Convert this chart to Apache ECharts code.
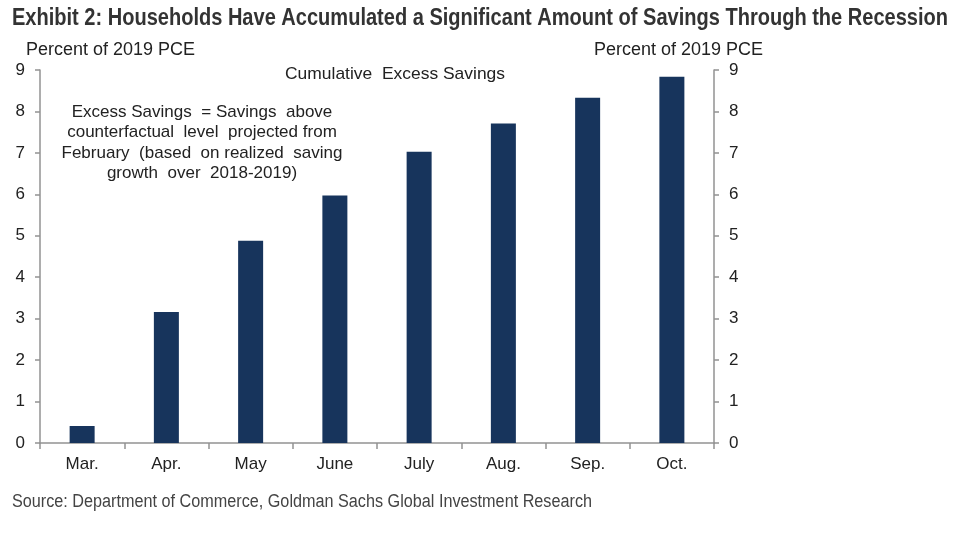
<!DOCTYPE html>
<html><head><meta charset="utf-8">
<script src="https://cdn.jsdelivr.net/npm/echarts@6/dist/echarts.min.js"></script>
<style>html,body{margin:0;padding:0;background:#fff}#c{width:960px;height:538px}</style>
</head><body><div id="c"></div>
<script>
const categories = ['Mar.', 'Apr.', 'May', 'June', 'July', 'Aug.', 'Sep.', 'Oct.'];
const excessSavings = [0.41, 3.16, 4.88, 5.97, 7.03, 7.71, 8.33, 8.84];
const yTicks = [0, 1, 2, 3, 4, 5, 6, 7, 8, 9];
const titleText = 'Exhibit 2: Households Have Accumulated a Significant Amount of Savings Through the Recession';
const unitText = 'Percent of 2019 PCE';
const seriesTitle = 'Cumulative  Excess Savings';
const noteLines = ['Excess Savings  = Savings  above', 'counterfactual  level  projected from', 'February  (based  on realized  saving', 'growth  over  2018-2019)'];
const sourceText = 'Source: Department of Commerce, Goldman Sachs Global Investment Research';

const FF = 'Liberation Sans, Arial, sans-serif';
const ctx = document.createElement('canvas').getContext('2d');
function measure(text, size, weight) {
  ctx.font = (weight || 'normal') + ' ' + size + 'px ' + FF;
  return ctx.measureText(text).width;
}
// text element horizontally squeezed so that it spans targetW
function fitText(text, x, y, size, targetW, opts) {
  opts = opts || {};
  const w = measure(text, size, opts.weight);
  const align = opts.align || 'left';
  return {
    type: 'group', x: x, y: y, scaleX: targetW / w,
    children: [{type: 'text', style: {text: text, x: 0, y: 0, align: align, verticalAlign: 'middle',
      fontFamily: FF, fontSize: size, fontWeight: opts.weight || 'normal', fill: opts.color || '#222'}}]
  };
}

const chart = echarts.init(document.getElementById('c'));
const axisCol = '#929292';
const labelFont = {color: '#222', fontSize: 17, fontFamily: FF};
const yAxisBase = {
  type: 'value', min: yTicks[0], max: yTicks[yTicks.length - 1], interval: 1,
  axisLine: {show: true, lineStyle: {color: axisCol, width: 1.5}},
  axisTick: {show: true, length: 5, lineStyle: {color: axisCol, width: 1.5}},
  splitLine: {show: false},
  axisLabel: Object.assign({margin: 15}, labelFont)
};
const noteW = Math.max.apply(null, noteLines.map(l => measure(l, 17)));
const noteScale = 281 / noteW;
const graphics = [
  fitText(titleText, 12, 18, 24, 936, {weight: 'bold', color: '#333'}),
  fitText(unitText, 26, 50, 18, 169),
  fitText(unitText, 594, 50, 18, 169),
  fitText(seriesTitle, 395, 74, 17, 220, {align: 'center'}),
  fitText(sourceText, 12, 502, 18, 580, {color: '#444'}),
  {type: 'group', x: 202, y: 112, scaleX: noteScale,
   children: noteLines.map((l, i) => ({type: 'text', style: {text: l, x: 0, y: i * 20.5, align: 'center', verticalAlign: 'middle',
     fontFamily: FF, fontSize: 17, fill: '#222'}}))}
];
chart.setOption({
  animation: false,
  graphic: graphics,
  grid: {left: 40, right: 246, top: 70, bottom: 95, containLabel: false},
  xAxis: {
    type: 'category', data: categories,
    axisLine: {lineStyle: {color: axisCol, width: 1.5}},
    axisTick: {show: true, length: 6, alignWithLabel: false, lineStyle: {color: axisCol, width: 1.5}},
    axisLabel: Object.assign({margin: 13}, labelFont)
  },
  yAxis: [
    Object.assign({position: 'left'}, yAxisBase),
    Object.assign({position: 'right'}, yAxisBase)
  ],
  series: [{
    type: 'bar', data: excessSavings, yAxisIndex: 0, barWidth: 25,
    itemStyle: {color: '#17345c'}
  }]
});
</script></body></html>
